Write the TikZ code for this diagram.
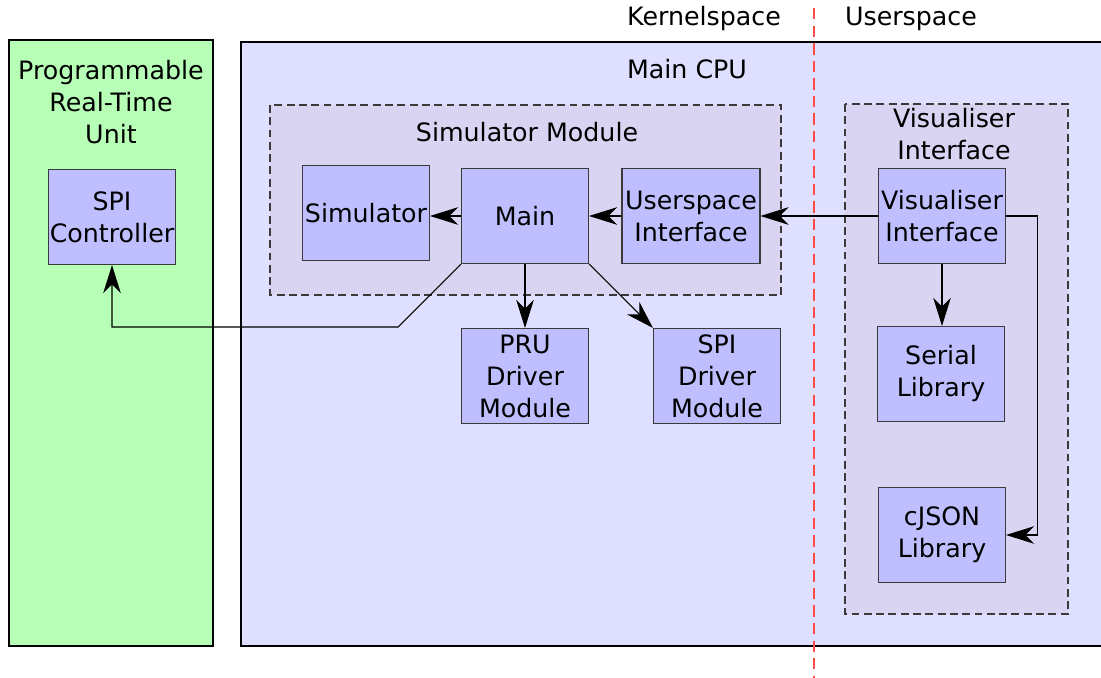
\documentclass[tikz,border=0pt]{standalone}
\usepackage{fontspec}
\setmainfont{DejaVu Sans}
\usetikzlibrary{arrows.meta}

\definecolor{pruGreen}{HTML}{B7FFB7}
\definecolor{cpuBlue}{HTML}{DFDFFF}
\definecolor{moduleFill}{HTML}{D8D4F1}
\definecolor{blockFill}{HTML}{BFBFFF}
\definecolor{edgeGray}{HTML}{3A3A3A}
\definecolor{spaceRed}{HTML}{FF4A4A}

\tikzset{
  block/.style={draw=edgeGray, fill=blockFill, line width=0.6pt,
    minimum width=2.54cm, minimum height=1.9cm, align=center, inner sep=0pt},
  group/.style={draw=edgeGray, fill=moduleFill, line width=0.6pt,
    dash pattern=on 4.5pt off 2.5pt},
  conn/.style={-{Stealth[length=16pt, width=10pt, inset=5pt]}, line width=0.6pt},
  label/.style={inner sep=0pt, align=center}
}

\begin{document}
\begin{tikzpicture}[x=0.02cm, y=-0.02cm, font=\fontsize{14.4}{18.2}\selectfont]
  \useasboundingbox (0,0) rectangle (1101,678);
  % --- left panel: PRU ---
  \draw[fill=pruGreen, line width=1.2pt] (9,40) rectangle (213,646);
  \node[label] (prutitle) at (111,102) {Programmable\\Real-Time\\Unit};
  \node[block] (spic) at (112,217) {SPI\\Controller};
  % --- main CPU ---
  \draw[fill=cpuBlue, line width=1.2pt] (241,42) rectangle (1120,646);
  \node[label] (cputitle) at (687,69) {Main CPU};
  % --- simulator module ---
  \draw[group] (270,105) rectangle (781,295);
  \node[label] (simtitle) at (527,132) {Simulator Module};
  \node[block] (sim)  at (366,213) {Simulator};
  \node[block] (main) at (525,216) {Main};
  \node[block, minimum width=2.76cm] (usi) at (691,216) {Userspace\\Interface};
  \node[block] (prud) at (525,376) {PRU\\Driver\\Module};
  \node[block] (spid) at (717,376) {SPI\\Driver\\Module};
  % --- visualiser interface ---
  \draw[group] (845,104) rectangle (1068,614);
  \node[label] (vistitle) at (954,134) {Visualiser\\Interface};
  \node[block] (vis)    at (942,216) {Visualiser\\Interface};
  \node[block] (serial) at (941,374) {Serial\\Library};
  \node[block] (json)   at (942,535) {cJSON\\Library};
  % --- kernel / user split ---
  \node[label] (kspace) at (704,19) {Kernelspace};
  \node[label] (uspace) at (911,19) {Userspace};
  \coordinate (splittop) at (814,8);
  \coordinate (splitbot) at (814,678);
  \draw[spaceRed, line width=0.9pt, dash pattern=on 6.5pt off 3.5pt] (splittop) -- (splitbot);
  % --- connectors ---
  \draw[conn] (main.west) -- (main.west -| sim.east);
  \draw[conn] (usi.west) -- (usi.west -| main.east);
  \draw[conn] (vis.west) -- (vis.west -| usi.east);
  \draw[conn] (main.south) -- (prud.north);
  \draw[conn] (main.south east) -- (spid.north west);
  \coordinate (bend) at (398,327);
  \draw[conn] (main.south west) -- (bend) -| (spic.south);
  \draw[conn] (vis.south) -- (vis.south |- serial.north);
  \draw[conn] (vis.east) -- ++(31,0) |- (json.east);
\end{tikzpicture}
\end{document}
